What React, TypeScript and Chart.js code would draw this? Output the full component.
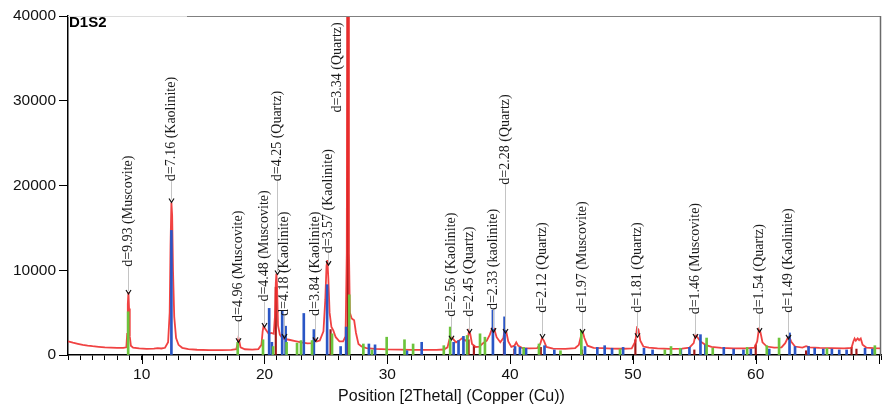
import React, { useEffect, useRef } from 'react';
import { Chart, registerables } from 'chart.js';
Chart.register(...registerables);

// ---- measured XRD profile (2Theta, counts) ----
const profile2Theta = [
  4.0, 4.4, 4.8, 5.2, 5.6, 6.0, 6.5, 7.0, 7.5, 8.0, 8.5, 8.75, 8.82, 8.87, 8.92, 8.97, 9.03, 9.12, 9.3, 9.8,
  10.4, 11.0, 11.3, 11.6, 11.9, 12.15, 12.28, 12.35, 12.42, 12.48, 12.55, 12.65, 12.8, 13.0, 13.3, 13.8, 14.5, 15.5, 16.5, 17.3,
  17.7, 17.82, 17.88, 17.95, 18.05, 18.4, 19.0, 19.5, 19.75, 19.85, 19.92, 20.0, 20.15, 20.35, 20.55, 20.75, 20.85, 20.92, 20.97, 21.02,
  21.1, 21.25, 21.4, 21.5, 21.6, 22.0, 22.5, 23.0, 23.5, 23.9, 24.05, 24.12, 24.25, 24.5, 24.8, 24.95, 25.05, 25.12, 25.2, 25.3,
  25.45, 25.6, 25.8, 26.1, 26.4, 26.6, 26.7, 26.75, 26.82, 26.88, 26.95, 27.1, 27.3, 27.45, 27.65, 27.9, 28.3, 29.0, 30.0, 31.0,
  32.0, 33.0, 34.0, 34.6, 34.9, 35.05, 35.18, 35.35, 35.6, 35.85, 36.1, 36.35, 36.55, 36.65, 36.75, 36.9, 37.2, 37.5, 37.8, 38.1,
  38.35, 38.55, 38.7, 38.9, 39.2, 39.45, 39.55, 39.68, 39.85, 40.1, 40.35, 40.5, 40.65, 41.0, 41.6, 42.2, 42.45, 42.6, 42.75, 42.95,
  43.5, 44.5, 45.3, 45.6, 45.8, 45.92, 46.05, 46.3, 46.8, 47.5, 48.3, 49.2, 49.9, 50.2, 50.33, 50.45, 50.6, 50.85, 51.3, 52.0,
  53.0, 54.0, 54.6, 54.95, 55.1, 55.25, 55.5, 55.9, 56.4, 57.2, 58.2, 59.2, 59.9, 60.12, 60.25, 60.38, 60.55, 60.9, 61.5, 62.1,
  62.4, 62.6, 62.72, 62.88, 63.2, 63.8, 64.1, 64.4, 65.2, 66.2, 67.2, 67.8, 67.95, 68.05, 68.15, 68.3, 68.42, 68.55, 68.7, 69.0,
  69.6, 70.2,
];
const profileCounts = [
  1600, 1450, 1320, 1200, 1110, 1040, 970, 910, 870, 840, 830, 900, 2500, 6000, 7400, 5500, 2200, 1100, 870, 770,
  730, 750, 820, 770, 850, 1500, 5000, 13000, 18000, 16500, 10000, 4500, 2000, 1200, 850, 700, 620, 580, 580, 600,
  680, 1400, 2000, 1600, 900, 680, 640, 700, 1200, 2800, 3400, 3200, 2900, 2500, 2600, 2500, 4500, 8500, 9600, 8200,
  3500, 2400, 2100, 2200, 1900, 1800, 1650, 1500, 1380, 1400, 1800, 1900, 1600, 1700, 2800, 6500, 10500, 11200, 9000, 5000,
  3300, 2900, 2100, 1600, 1600, 2200, 12000, 48000, 48000, 12000, 5000, 4300, 4100, 2600, 1300, 1000, 820, 730, 660, 630,
  610, 600, 600, 650, 900, 1800, 2200, 1900, 1500, 1700, 2000, 1700, 1900, 2800, 2500, 1300, 950, 1000, 1400, 1700,
  2400, 3200, 3100, 2100, 1500, 2000, 3000, 2800, 1600, 950, 1100, 1500, 1100, 820, 780, 800, 1300, 2000, 1700, 950,
  760, 720, 820, 1200, 2400, 2700, 2000, 1100, 850, 800, 760, 740, 780, 1600, 3200, 3000, 1700, 1000, 880, 780,
  730, 760, 880, 1400, 2400, 2100, 1600, 1200, 950, 830, 790, 780, 870, 1600, 3000, 2700, 1500, 1000, 860, 900,
  1400, 2000, 2200, 1600, 1000, 880, 1050, 900, 830, 800, 790, 850, 1600, 1950, 1700, 1950, 1750, 1950, 1200, 880,
  810, 790,
];

// ---- reference stick patterns ----
const kaolinite2Theta = [12.42, 20.38, 20.6, 21.44, 21.72, 23.2, 24.02, 25.1, 26.2, 26.65, 28.5, 29.0, 31.6, 32.8, 35.4, 35.8, 36.2, 38.6, 39.55, 40.4, 40.8, 41.3, 42.8, 43.6, 46.1, 47.1, 47.7, 48.3, 49.2, 50.9, 51.6, 53.9, 54.6, 55.5, 55.9, 57.4, 58.2, 59.0, 59.6, 61.1, 62.75, 63.2, 64.3, 64.8, 65.5, 66.2, 66.8, 67.4, 68.9, 69.5];
const kaoliniteCounts = [14700, 5500, 1500, 5200, 3400, 4900, 3000, 8300, 1000, 3300, 1300, 1200, 500, 1500, 1500, 1700, 2200, 5300, 4500, 1000, 900, 800, 1100, 600, 1000, 900, 1100, 800, 900, 800, 600, 700, 900, 2400, 1200, 900, 700, 600, 700, 700, 2600, 1000, 1000, 800, 700, 700, 600, 600, 800, 700];

const muscovite2Theta = [8.9, 17.82, 19.88, 20.7, 21.8, 22.65, 22.97, 23.87, 25.5, 26.9, 28.05, 28.75, 29.95, 31.4, 32.1, 34.6, 35.12, 36.5, 37.55, 37.95, 41.1, 42.35, 44.1, 45.8, 48.95, 52.6, 53.1, 53.85, 56.0, 56.5, 59.3, 60.9, 61.9, 65.8, 69.7];
const muscoviteCounts = [5100, 1500, 1800, 1000, 1500, 1400, 1700, 1700, 2500, 7100, 1300, 600, 2100, 1800, 1300, 1100, 3300, 2300, 2500, 2100, 900, 1300, 500, 2900, 700, 600, 1000, 800, 2000, 800, 900, 1100, 2000, 800, 1100];

const quartz2Theta = [20.92, 25.38, 26.78, 36.62, 37.05, 39.5, 40.35, 42.5, 45.85, 50.2, 55.0, 60.0, 64.1, 67.8, 68.2];
const quartzCounts = [8000, 3000, 45000, 1800, 1100, 1500, 700, 900, 600, 1800, 600, 1200, 500, 900, 700];

// ---- peak annotations ----
const annLabels = ['d=9.93 (Muscovite)', 'd=7.16 (Kaolinite)', 'd=4.96 (Muscovite)', 'd=4.48 (Muscovite)', 'd=4.25 (Quartz)', 'd=4.18 (Kaolinite)', 'd=3.84 (Kaolinite)', 'd=3.57 (Kaolinite)', 'd=3.34 (Quartz)', 'd=2.56 (Kaolinite)', 'd=2.45 (Quartz)', 'd=2.33 (kaolinite)', 'd=2.28 (Quartz)', 'd=2.12 (Quartz)', 'd=1.97 (Muscovite)', 'd=1.81 (Quartz)', 'd=1.46 (Muscovite)', 'd=1.54 (Quartz)', 'd=1.49 (Kaolinite)'];
const ann2Theta = [8.85, 12.39, 17.84, 19.95, 21.0, 21.55, 24.09, 25.14, 25.87, 35.18, 36.64, 38.61, 39.56, 42.61, 45.85, 50.37, 55.09, 60.24, 62.59];
const annArrowCounts = [7200, 18000, 1500, 3300, 9500, 2000, 1600, 10600, null, 1800, 2600, 2700, 2600, 2000, 2600, 2100, 2000, 2700, 1900];
const annTextCounts = [10400, 20500, 3900, 6300, 20500, 4600, 4600, 12000, 28600, 4500, 4500, 5300, 20100, 5000, 5000, 5000, 4800, 4800, 5000];

const sampleName = 'D1S2';
const xTitle = 'Position [2Thetal] (Copper (Cu))';

const SANS = '"Liberation Sans", Arial, sans-serif';
const SERIF = '"Liberation Serif", "Times New Roman", serif';

const pts = (xs: number[], ys: number[]) => xs.map((x, i) => ({ x, y: ys[i] }));

const decor = {
  id: 'decor',
  afterDraw(chart: any) {
    const { ctx, chartArea: a, scales } = chart;
    const x = scales.x, y = scales.y;
    ctx.save();
    // frame top/right
    ctx.lineWidth = 1;
    ctx.strokeStyle = '#dcdcdc';
    ctx.beginPath(); ctx.moveTo(a.left, a.top + 0.5); ctx.lineTo(187, a.top + 0.5); ctx.stroke();
    ctx.strokeStyle = '#808080';
    ctx.beginPath(); ctx.moveTo(187, a.top + 0.5); ctx.lineTo(a.right, a.top + 0.5); ctx.stroke();
    ctx.lineWidth = 1.5;
    ctx.strokeStyle = '#6a6a6a';
    ctx.beginPath(); ctx.moveTo(a.right - 0.5, a.top); ctx.lineTo(a.right - 0.5, a.bottom); ctx.stroke();
    // major x ticks
    ctx.strokeStyle = '#000';
    ctx.lineWidth = 1;
    for (let v = 10; v <= 70; v += 10) {
      const px = Math.round(x.getPixelForValue(v)) + 0.5;
      ctx.beginPath(); ctx.moveTo(px, a.bottom); ctx.lineTo(px, a.bottom + 9); ctx.stroke();
    }
    // sample name
    ctx.fillStyle = '#000';
    ctx.font = `bold 15px ${SANS}`;
    ctx.textAlign = 'left';
    ctx.textBaseline = 'middle';
    ctx.fillText(sampleName, a.left + 1, a.top + 7);
    // x title
    ctx.font = `16px ${SANS}`;
    ctx.textAlign = 'center';
    ctx.fillStyle = '#111';
    ctx.fillText(xTitle, (a.left + a.right) / 2 - 23, 397);
    // annotations
    ctx.font = `14px ${SERIF}`;
    for (let i = 0; i < annLabels.length; i++) {
      const px = Math.round(x.getPixelForValue(ann2Theta[i])) + 0.5;
      const ty = y.getPixelForValue(annTextCounts[i]);
      const ac = annArrowCounts[i];
      if (ac !== null) {
        const ay = y.getPixelForValue(ac);
        ctx.strokeStyle = '#c4c4c4';
        ctx.lineWidth = 1;
        ctx.beginPath(); ctx.moveTo(px, ay - 3); ctx.lineTo(px, ty); ctx.stroke();
        ctx.strokeStyle = '#111';
        ctx.lineWidth = 1.2;
        ctx.beginPath(); ctx.moveTo(px - 2.5, ay - 4); ctx.lineTo(px, ay); ctx.lineTo(px + 2.5, ay - 4); ctx.stroke();
      }
      ctx.save();
      ctx.translate(px, ty);
      ctx.rotate(-Math.PI / 2);
      ctx.fillStyle = '#1a1a1a';
      ctx.textAlign = 'left';
      ctx.textBaseline = 'middle';
      ctx.fillText(annLabels[i], 0, 0);
      ctx.restore();
    }
    ctx.restore();
  },
};

export default function App() {
  const ref = useRef<HTMLCanvasElement>(null);
  useEffect(() => {
    document.body.style.margin = '0';
    const canvas = ref.current!;
    const chart = new Chart(canvas, {
      type: 'bar',
      data: {
        datasets: [
          {
            type: 'line',
            label: 'profile',
            data: pts(profile2Theta, profileCounts),
            borderColor: 'rgba(238,45,45,0.9)',
            borderWidth: 1.8,
            pointRadius: 0,
            tension: 0,
            order: 10,
          } as any,
          {
            type: 'bar',
            label: 'Kaolinite',
            data: pts(kaolinite2Theta, kaoliniteCounts),
            backgroundColor: '#2a56c6',
            barThickness: 2,
            grouped: false,
            order: 3,
          } as any,
          {
            type: 'bar',
            label: 'Muscovite',
            data: pts(muscovite2Theta, muscoviteCounts),
            backgroundColor: '#6cc43c',
            barThickness: 2,
            grouped: false,
            order: 2,
          } as any,
          {
            type: 'bar',
            label: 'Quartz',
            data: pts(quartz2Theta, quartzCounts),
            backgroundColor: '#a01818',
            barThickness: 1.5,
            grouped: false,
            order: 20,
          } as any,
        ],
      },
      options: {
        animation: false,
        responsive: false,
        devicePixelRatio: 1,
        layout: { padding: { top: 16, right: 2, left: 0, bottom: 0 } },
        plugins: { legend: { display: false }, tooltip: { enabled: false }, title: { display: false } },
        scales: {
          x: {
            type: 'linear',
            min: 4,
            max: 70.2,
            offset: false,
            afterFit: (s: any) => { s.height = 52; },
            grid: { offset: false, drawOnChartArea: false, drawTicks: true, tickLength: 5, tickColor: '#000', color: '#000' },
            border: { display: true, color: '#000', width: 1.5 },
            ticks: {
              stepSize: 1,
              autoSkip: false,
              maxRotation: 0,
              padding: 5,
              color: '#111',
              font: { family: SANS, size: 15.5 },
              callback: (v: any) => (Math.abs(v % 10) < 1e-6 ? String(v) : ''),
            },
          },
          y: {
            type: 'linear',
            min: 0,
            max: 40000,
            afterFit: (s: any) => { s.width = 68; },
            grid: { drawOnChartArea: false, drawTicks: true, tickLength: 9, tickColor: '#000', color: '#000' },
            border: { display: true, color: '#000', width: 1.5 },
            ticks: {
              stepSize: 10000,
              padding: 3,
              color: '#111',
              font: { family: SANS, size: 15.5 },
              callback: (v: any) => String(v),
            },
          },
        },
      } as any,
      plugins: [decor],
    });
    return () => chart.destroy();
  }, []);
  return (
    <div style={{ width: 886, height: 407 }}>
      <canvas ref={ref} width={886} height={407} style={{ width: 886, height: 407, display: 'block' }} />
    </div>
  );
}
